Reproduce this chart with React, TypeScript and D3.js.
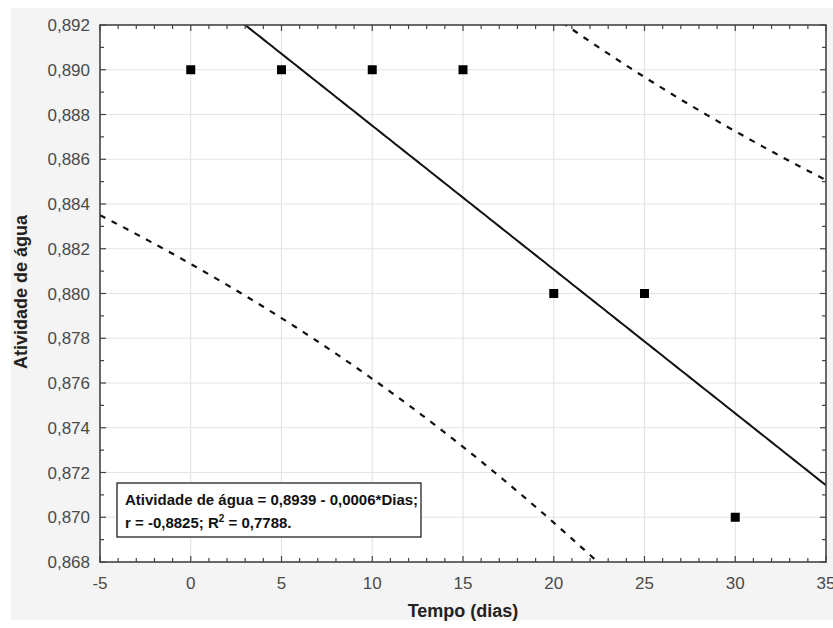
import React, { useRef, useEffect } from 'react';
import * as d3 from 'd3';

// observed data
const dias = [0, 5, 10, 15, 20, 25, 30];
const atividade = [0.89, 0.89, 0.89, 0.89, 0.88, 0.88, 0.87];
const xTicks = [-5, 0, 5, 10, 15, 20, 25, 30, 35];
const yTicks = [0.868, 0.87, 0.872, 0.874, 0.876, 0.878, 0.88, 0.882, 0.884, 0.886, 0.888, 0.89, 0.892];
const eqLines = ['Atividade de água = 0,8939 - 0,0006*Dias;', 'r = -0,8825; '];

const App = () => {
  const svgRef = useRef<SVGSVGElement>(null);

  useEffect(() => {
    const width = 833;
    const height = 628;
    const m = { left: 100, right: 826, top: 25, bottom: 562 };
    const svg = d3.select(svgRef.current);
    svg.selectAll('*').remove();

    svg.append('rect').attr('x', 11).attr('y', 8).attr('width', width - 11).attr('height', 612).attr('fill', '#f4f4f4');
    svg.append('rect').attr('x', m.left).attr('y', m.top).attr('width', m.right - m.left).attr('height', m.bottom - m.top).attr('fill', '#fff');

    const x = d3.scaleLinear().domain([-5, 35]).range([m.left, m.right]);
    const y = d3.scaleLinear().domain([0.868, 0.892]).range([m.bottom, m.top]);

    // grid
    const grid = svg.append('g').attr('stroke', '#e4e4e4').attr('stroke-width', 1.2);
    grid.selectAll('.gx').data(xTicks.slice(1, -1)).join('line')
      .attr('x1', d => x(d)).attr('x2', d => x(d)).attr('y1', m.top).attr('y2', m.bottom);
    grid.selectAll('.gy').data(yTicks.slice(1, -1)).join('line')
      .attr('y1', d => y(d)).attr('y2', d => y(d)).attr('x1', m.left).attr('x2', m.right);

    // regression + 95% prediction bands
    const n = dias.length;
    const mx = d3.mean(dias)!;
    const my = d3.mean(atividade)!;
    const sxx = d3.sum(dias, d => (d - mx) ** 2);
    const sxy = d3.sum(dias, (d, i) => (d - mx) * (atividade[i] - my));
    const b = sxy / sxx;
    const a = my - b * mx;
    const sse = d3.sum(dias, (d, i) => (atividade[i] - (a + b * d)) ** 2);
    const s = Math.sqrt(sse / (n - 2));
    const t = 2.5706;
    const xs = d3.range(-5, 35.01, 0.25);
    const half = (v: number) => t * s * Math.sqrt(1 + 1 / n + (v - mx) ** 2 / sxx);

    const clip = svg.append('clipPath').attr('id', 'plotclip');
    clip.append('rect').attr('x', m.left).attr('y', m.top).attr('width', m.right - m.left).attr('height', m.bottom - m.top);
    const plot = svg.append('g').attr('clip-path', 'url(#plotclip)');
    const line = d3.line<number>().x(v => x(v));

    plot.append('path').attr('fill', 'none').attr('stroke', '#111').attr('stroke-width', 2)
      .attr('d', line.y(v => y(a + b * v))(xs));
    [-1, 1].forEach(sign => {
      plot.append('path').attr('fill', 'none').attr('stroke', '#111').attr('stroke-width', 2.2)
        .attr('stroke-dasharray', '6,7')
        .attr('d', line.y(v => y(a + b * v + sign * half(v)))(xs));
    });

    plot.selectAll('.pt').data(dias).join('rect')
      .attr('x', (d) => x(d) - 4.5).attr('y', (d, i) => y(atividade[i]) - 4.5)
      .attr('width', 9).attr('height', 9).attr('fill', '#000');

    // ticks inward on all sides
    const tk = svg.append('g').attr('stroke', '#444').attr('stroke-width', 1.2);
    const minorX = d3.range(-5, 35.01, 1);
    const minorY = d3.range(0.868, 0.89201, 0.001);
    minorX.forEach(v => {
      const len = v % 5 === 0 ? 6 : 4;
      tk.append('line').attr('x1', x(v)).attr('x2', x(v)).attr('y1', m.bottom).attr('y2', m.bottom - len);
      tk.append('line').attr('x1', x(v)).attr('x2', x(v)).attr('y1', m.top).attr('y2', m.top + len);
    });
    minorY.forEach((v, i) => {
      const len = i % 2 === 0 ? 6 : 4;
      tk.append('line').attr('y1', y(v)).attr('y2', y(v)).attr('x1', m.left).attr('x2', m.left + len);
      tk.append('line').attr('y1', y(v)).attr('y2', y(v)).attr('x1', m.right).attr('x2', m.right - len);
    });

    svg.append('rect').attr('x', m.left).attr('y', m.top).attr('width', m.right - m.left).attr('height', m.bottom - m.top)
      .attr('fill', 'none').attr('stroke', '#444').attr('stroke-width', 1.6);

    const fmt = (v: number) => v.toFixed(3).replace('.', ',');
    svg.append('g').attr('font-family', 'Liberation Sans, Arial, sans-serif').attr('font-size', 17).attr('fill', '#4a4a4a')
      .selectAll('text').data(yTicks).join('text')
      .attr('x', m.left - 10).attr('y', d => y(d) + 6).attr('text-anchor', 'end').text(d => fmt(d));
    svg.append('g').attr('font-family', 'Liberation Sans, Arial, sans-serif').attr('font-size', 17).attr('fill', '#4a4a4a')
      .selectAll('text').data(xTicks).join('text')
      .attr('x', d => x(d)).attr('y', 589).attr('text-anchor', 'middle').text(d => String(d));

    svg.append('text').attr('x', 463).attr('y', 617).attr('text-anchor', 'middle')
      .attr('font-family', 'Liberation Sans, Arial, sans-serif').attr('font-weight', 'bold').attr('font-size', 18).attr('fill', '#222')
      .text('Tempo (dias)');
    svg.append('text').attr('transform', 'translate(27,292) rotate(-90)').attr('text-anchor', 'middle')
      .attr('font-family', 'Liberation Sans, Arial, sans-serif').attr('font-weight', 'bold').attr('font-size', 18).attr('fill', '#222')
      .text('Atividade de água');

    // equation box
    const box = svg.append('g').attr('font-family', 'Liberation Sans, Arial, sans-serif').attr('font-weight', 'bold').attr('font-size', 15).attr('fill', '#111');
    box.append('rect').attr('x', 117).attr('y', 483).attr('width', 304).attr('height', 54)
      .attr('fill', '#fff').attr('stroke', '#222').attr('stroke-width', 1.3);
    box.append('text').attr('x', 125).attr('y', 505).text(eqLines[0]);
    const t2 = box.append('text').attr('x', 125).attr('y', 528);
    t2.append('tspan').text(eqLines[1] + 'R');
    t2.append('tspan').attr('dy', -6).attr('font-size', 10).text('2');
    t2.append('tspan').attr('dy', 6).text(' = 0,7788.');
  }, []);

  return <svg ref={svgRef} width={833} height={628} style={{ position: 'absolute', left: 0, top: 0 }} />;
};

export default App;
